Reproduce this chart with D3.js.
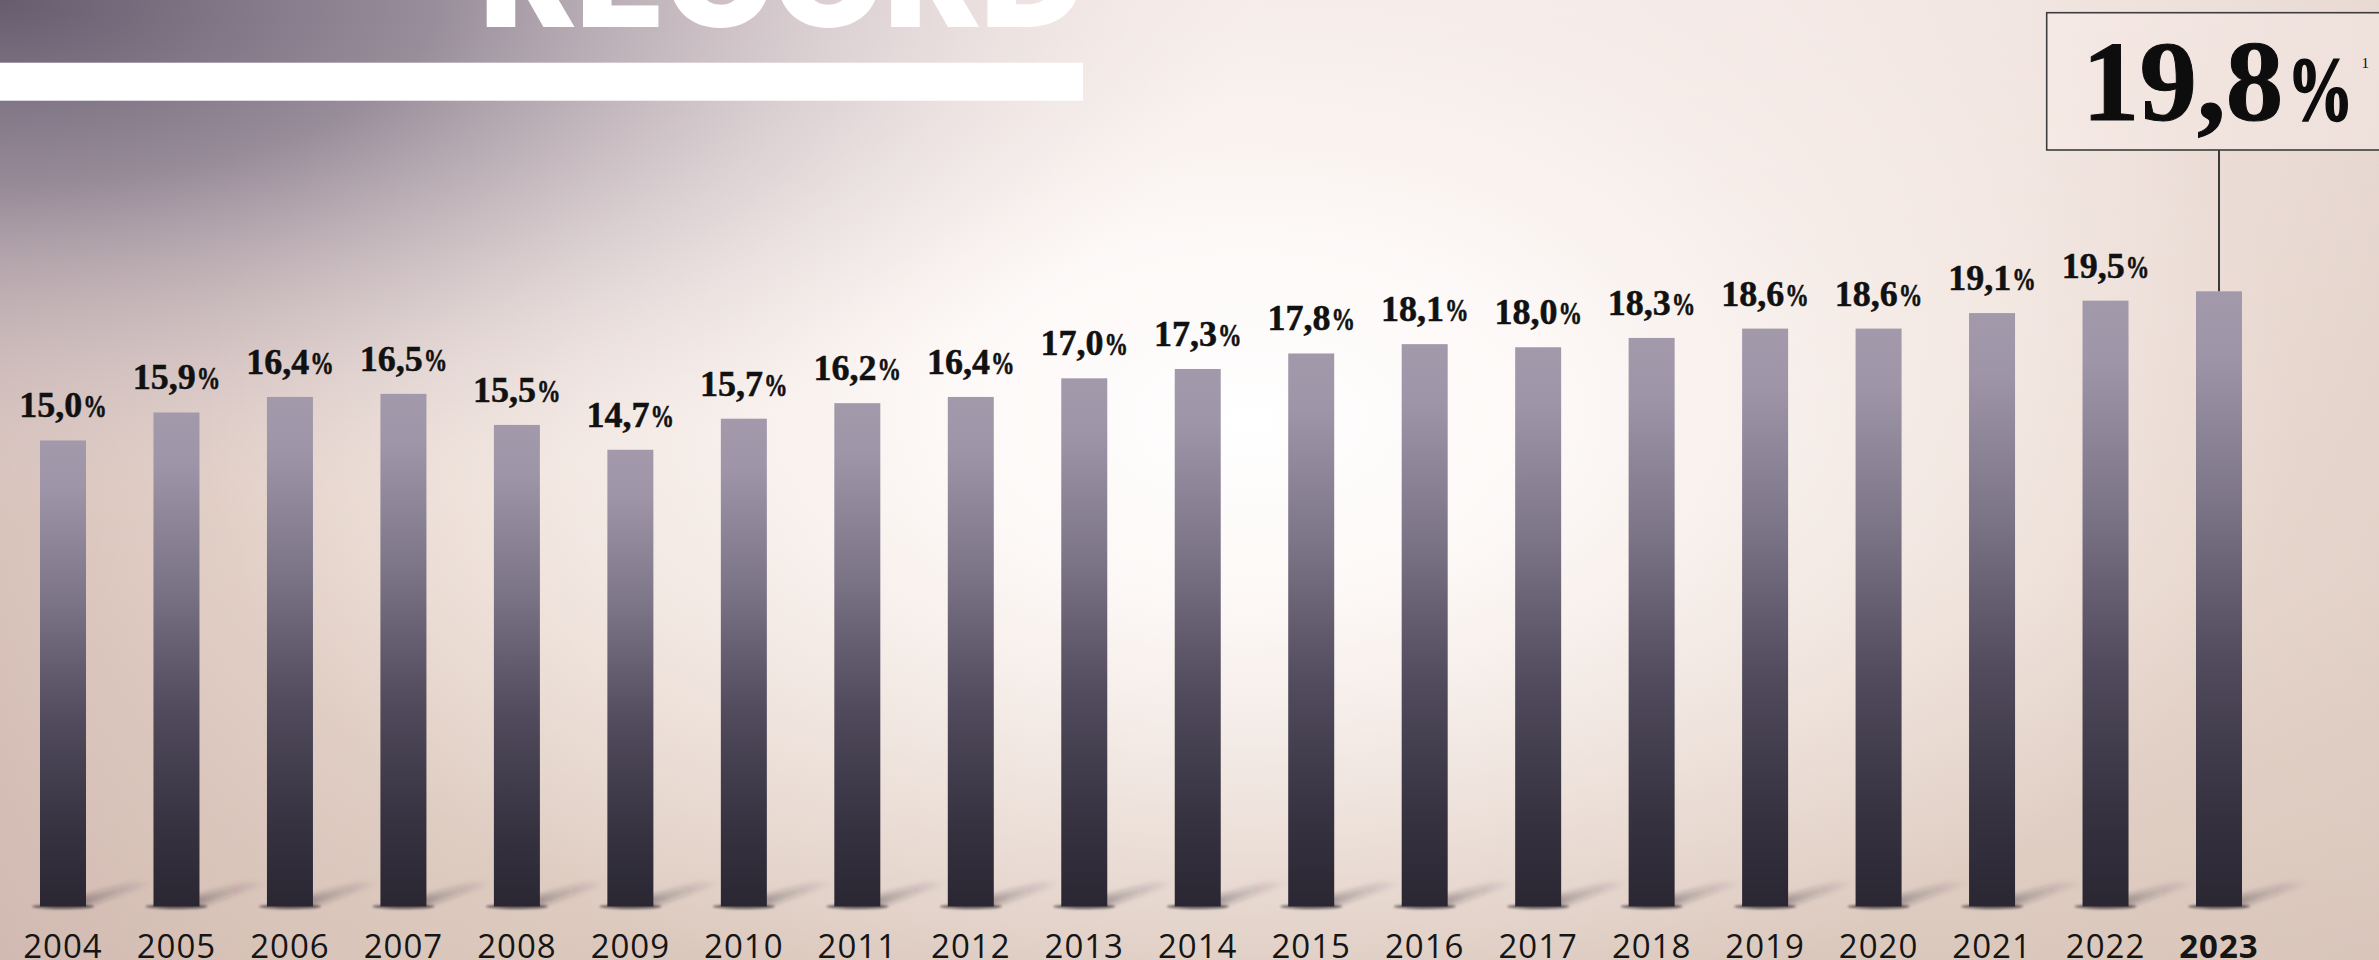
<!DOCTYPE html>
<html>
<head>
<meta charset="utf-8">
<script src="https://cdn.jsdelivr.net/npm/d3@7"></script>
<style>
  html, body { margin: 0; padding: 0; overflow: hidden; background: #eadbd3; }
  svg { display: block; }
</style>
</head>
<body>
<svg id="chart" width="2379" height="960"></svg>
<script>
// ---- data ----
const years = ["2004","2005","2006","2007","2008","2009","2010","2011","2012","2013",
               "2014","2015","2016","2017","2018","2019","2020","2021","2022","2023"];
const shares = [15.0, 15.9, 16.4, 16.5, 15.5, 14.7, 15.7, 16.2, 16.4, 17.0,
                17.3, 17.8, 18.1, 18.0, 18.3, 18.6, 18.6, 19.1, 19.5, 19.8];
const highlightYear = "2023";
const titleText = "RECORD";
const footnoteMark = "1";

const W = 2379, H = 960;
const svg = d3.select("#chart");
const defs = svg.append("defs");

// ---- background ----
const bgBase = defs.append("linearGradient").attr("id","bgBase")
  .attr("x1","0").attr("y1","0").attr("x2","0").attr("y2","1");
bgBase.append("stop").attr("offset","0").attr("stop-color","#f2e6e2");
bgBase.append("stop").attr("offset","0.6").attr("stop-color","#eadbd2");
bgBase.append("stop").attr("offset","1").attr("stop-color","#dbc8bd");

const bgSide = defs.append("linearGradient").attr("id","bgSide")
  .attr("x1","0").attr("y1","0").attr("x2","1").attr("y2","0");
bgSide.append("stop").attr("offset","0").attr("stop-color","#c9aea7").attr("stop-opacity",0.55);
bgSide.append("stop").attr("offset","0.25").attr("stop-color","#d9c0b4").attr("stop-opacity",0.0);
bgSide.append("stop").attr("offset","0.85").attr("stop-color","#d9c0b4").attr("stop-opacity",0.0);
bgSide.append("stop").attr("offset","1").attr("stop-color","#d6c2b8").attr("stop-opacity",0.35);

const glow = defs.append("radialGradient").attr("id","glow")
  .attr("gradientUnits","userSpaceOnUse")
  .attr("cx",1250).attr("cy",420).attr("r",1050)
  .attr("gradientTransform","translate(1250,420) scale(1,0.6) translate(-1250,-420)");
glow.append("stop").attr("offset","0").attr("stop-color","#ffffff").attr("stop-opacity",1);
glow.append("stop").attr("offset","0.3").attr("stop-color","#fefbfa").attr("stop-opacity",0.9);
glow.append("stop").attr("offset","1").attr("stop-color","#fbf3ef").attr("stop-opacity",0);

const dark = defs.append("radialGradient").attr("id","dark")
  .attr("gradientUnits","userSpaceOnUse")
  .attr("cx",0).attr("cy",0).attr("r",1250)
  .attr("gradientTransform","scale(1,0.42)");
dark.append("stop").attr("offset","0").attr("stop-color","#655c6e").attr("stop-opacity",1);
dark.append("stop").attr("offset","0.35").attr("stop-color","#8a7f90").attr("stop-opacity",0.85);
dark.append("stop").attr("offset","0.75").attr("stop-color","#c4b6bf").attr("stop-opacity",0.3);
dark.append("stop").attr("offset","1").attr("stop-color","#e6d8d8").attr("stop-opacity",0);

svg.append("rect").attr("width",W).attr("height",H).attr("fill","url(#bgBase)");
svg.append("rect").attr("width",W).attr("height",H).attr("fill","url(#bgSide)");
svg.append("rect").attr("width",W).attr("height",H).attr("fill","url(#glow)");
svg.append("rect").attr("width",W).attr("height",H).attr("fill","url(#dark)");

// ---- title fragment ----
svg.append("text")
  .attr("x",480).attr("y",27)
  .attr("textLength",605).attr("lengthAdjust","spacingAndGlyphs")
  .attr("font-family","Inter, 'Open Sans', sans-serif")
  .attr("font-weight",900).attr("font-size",135)
  .attr("fill","#ffffff")
  .text(titleText);
svg.append("rect").attr("x",0).attr("y",62.7).attr("width",1083).attr("height",38).attr("fill","#ffffff");

// ---- scales ----
const x = d3.scalePoint().domain(years).range([63, 2219]);
const y = d3.scaleLinear().domain([0, 20]).range([906.5, 285.1]);
const barW = 46;
const base = y(0);

// bar gradient
const barGrad = defs.append("linearGradient").attr("id","barGrad")
  .attr("x1","0").attr("y1","0").attr("x2","0").attr("y2","1");
barGrad.append("stop").attr("offset","0").attr("stop-color","#a29aab");
barGrad.append("stop").attr("offset","0.1").attr("stop-color","#9e96a8");
barGrad.append("stop").attr("offset","0.35").attr("stop-color","#7b7386");
barGrad.append("stop").attr("offset","0.6").attr("stop-color","#514b5d");
barGrad.append("stop").attr("offset","0.85").attr("stop-color","#35313f");
barGrad.append("stop").attr("offset","1").attr("stop-color","#2a2733");

const shGrad = defs.append("linearGradient").attr("id","shGrad")
  .attr("x1","0").attr("y1","0").attr("x2","1").attr("y2","0");
shGrad.append("stop").attr("offset","0").attr("stop-color","#2a2030").attr("stop-opacity",0.6);
shGrad.append("stop").attr("offset","0.5").attr("stop-color","#2a2030").attr("stop-opacity",0.22);
shGrad.append("stop").attr("offset","1").attr("stop-color","#2a2030").attr("stop-opacity",0);

const blur = defs.append("filter").attr("id","blur").attr("x","-50%").attr("y","-50%").attr("width","200%").attr("height","200%");
blur.append("feGaussianBlur").attr("stdDeviation",2.5);
const blurS = defs.append("filter").attr("id","blurS").attr("x","-50%").attr("y","-200%").attr("width","200%").attr("height","500%");
blurS.append("feGaussianBlur").attr("stdDeviation",1.2);

const data = years.map((yr,i) => ({year: yr, v: shares[i]}));

// shadows
const sh = svg.append("g").attr("class","shadows");
sh.selectAll("path.cast").data(data).join("path")
  .attr("class","cast")
  .attr("d", d => {
    const x0 = x(d.year) - barW/2 + 4, x1 = x(d.year) + barW/2;
    return `M${x0},${base} L${x1},${base} L${x1+70},${base-24} L${x1+46},${base-24} Z`;
  })
  .attr("fill","url(#shGrad)")
  .attr("filter","url(#blur)");
sh.selectAll("ellipse").data(data).join("ellipse")
  .attr("cx", d => x(d.year)).attr("cy", base)
  .attr("rx", barW/2 + 8).attr("ry", 2.5)
  .attr("fill","#1e1a24").attr("opacity",0.55)
  .attr("filter","url(#blurS)");

// bars
svg.append("g").selectAll("rect").data(data).join("rect")
  .attr("x", d => x(d.year) - barW/2)
  .attr("y", d => y(d.v))
  .attr("width", barW)
  .attr("height", d => base - y(d.v))
  .attr("fill","url(#barGrad)");

// value labels (not for highlighted year)
const fmt = v => d3.format(".1f")(v).replace(".", ",");
const serif = "'Liberation Serif', 'Times New Roman', serif";
const lbl = svg.append("g");
data.filter(d => d.year !== highlightYear).forEach(d => {
  const g = lbl.append("g");
  const num = g.append("text")
    .attr("x",0).attr("y",0)
    .attr("font-family",serif)
    .attr("font-weight",700).attr("font-size",36)
    .attr("stroke","#111").attr("stroke-width",0.5)
    .attr("fill","#111")
    .text(fmt(d.v));
  const nw = num.node().getComputedTextLength();
  const sx = 0.76, pf = 31;
  const pct = g.append("text")
    .attr("transform",`translate(${nw+1},0) scale(${sx},1)`)
    .attr("font-family",serif)
    .attr("font-weight",700).attr("font-size",pf)
    .attr("stroke","#111").attr("stroke-width",0.6)
    .attr("fill","#111")
    .text("%");
  const pw = pct.node().getComputedTextLength()*sx;
  const total = nw + 1 + pw;
  g.attr("transform",`translate(${x(d.year) - total/2},${y(d.v) - 23})`);
});

// year axis labels
svg.append("g").selectAll("text").data(data).join("text")
  .attr("x", d => x(d.year)).attr("y", 958)
  .attr("text-anchor","middle")
  .attr("font-family","'Open Sans', 'Noto Sans', sans-serif")
  .attr("font-size",33)
  .attr("letter-spacing",1)
  .attr("font-weight", d => d.year === highlightYear ? 700 : 400)
  .attr("fill","#151515")
  .text(d => d.year);

// callout for highlighted year
const hd = data.find(d => d.year === highlightYear);
const boxTop = 12.7, boxBottom = 150;
svg.append("line")
  .attr("x1", x(hd.year)).attr("x2", x(hd.year))
  .attr("y1", boxBottom).attr("y2", y(hd.v))
  .attr("stroke","#3a3a3a").attr("stroke-width",2);
svg.append("rect")
  .attr("x",2046.7).attr("y",boxTop).attr("width",400).attr("height",boxBottom-boxTop)
  .attr("fill","#fbf1ee").attr("fill-opacity",0.35)
  .attr("stroke","#3d3d3d").attr("stroke-width",1.6);
const cg = svg.append("g").attr("transform","translate(2082,120)");
const bigNum = cg.append("text")
  .attr("font-family",serif)
  .attr("font-weight",700).attr("font-size",115)
  .attr("stroke","#0d0d0d").attr("stroke-width",1)
  .attr("fill","#0d0d0d")
  .text(fmt(hd.v));
const bnw = bigNum.node().getComputedTextLength();
const bigPct = cg.append("text")
  .attr("transform",`translate(${bnw+4},0) scale(0.72,1)`)
  .attr("font-family",serif)
  .attr("font-weight",700).attr("font-size",92)
  .attr("stroke","#0d0d0d").attr("stroke-width",2)
  .attr("fill","#0d0d0d")
  .text("%");
const bpw = bigPct.node().getComputedTextLength()*0.72;
cg.append("text")
  .attr("x", bnw + 4 + bpw + 8).attr("y", -52)
  .attr("font-family",serif)
  .attr("font-size",15)
  .attr("fill","#0d0d0d")
  .text(footnoteMark);
</script>
</body>
</html>
